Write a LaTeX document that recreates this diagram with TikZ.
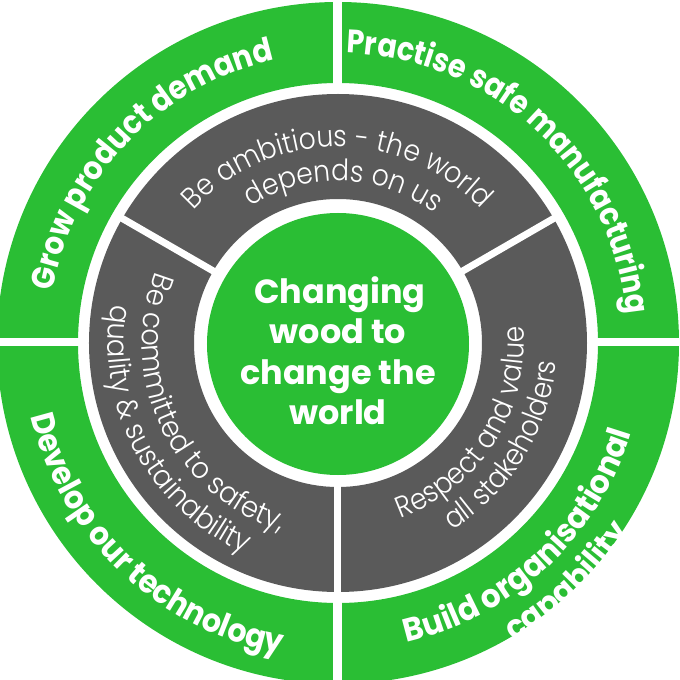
\documentclass[tikz,border=0pt]{standalone}
\usepackage{fontspec}
\usetikzlibrary{decorations.text}
\newfontfamily\popAa{Poppins}[FakeStretch=0.875]
\newfontfamily\popAb{Poppins}[FakeStretch=0.9]
\newfontfamily\popAc{Poppins}[FakeStretch=0.92]
\newfontfamily\popAd{Poppins}[FakeStretch=0.95]
\IfFontExistsTF{Poppins Light}
  {\newfontfamily\popBa{Poppins Light}[FakeStretch=0.9]
   \newfontfamily\popBb{Poppins Light}[FakeStretch=0.93]}
  {\newfontfamily\popBa{Poppins}[FakeStretch=0.9]
   \newfontfamily\popBb{Poppins}[FakeStretch=0.93]}
\newfontfamily\popC{Poppins}
\definecolor{leafgreen}{RGB}{42,190,52}
\definecolor{slate}{RGB}{90,90,90}
\newcommand\outersize{\bfseries\fontsize{32.5}{37}\selectfont}
\newcommand\ringsize{\fontsize{29.5}{32}\selectfont}
\newcommand\corefont{\popC\bfseries\fontsize{33.5}{40}\selectfont}
\tikzset{
  arctext/.style={decorate, decoration={text along path, text align=center, text color=white}},
  coretext/.style={anchor=base, text=white, font=\corefont, inner sep=0pt},
  gapline/.style={white, line width=7pt},
}
\begin{document}
\begin{tikzpicture}[x=1pt, y=1pt]
\useasboundingbox (-338,-337) rectangle (342,343);
% outer green ring
\fill[leafgreen, even odd rule] (0,0) circle[radius=341] (0,0) circle[radius=260];
% white cross
\fill[white] (-5,-350) rectangle (4,350);
\fill[white] (-350,-3) rectangle (350,5);
% gray ring
\fill[slate, even odd rule] (0,0) circle[radius=249] (0,0) circle[radius=144];
\draw[gapline] (30:138) -- (30:255);
\draw[gapline] (150:138) -- (150:255);
\draw[gapline] (270:138) -- (270:255);
% center
\node[circle, fill=leafgreen, minimum size=262pt, inner sep=0pt] (core) at (0,-1) {};
\node[coretext] (line1) at (2,39) {Changing};
\node[coretext] (line2) at (0,-1) {wood to};
\node[coretext] (line3) at (0,-41) {change the};
\node[coretext] (line4) at (0,-81) {world};
% outer texts
\path[arctext, decoration={text={|\popAb\outersize|Grow product demand}}]
  (196.2:290) arc[start angle=196.2, end angle=76.2, radius=290];
\path[arctext, decoration={text={|\popAa\outersize|Practise safe manufacturing}}]
  (107:290) arc[start angle=107, end angle=-13, radius=290];
\path[arctext, decoration={text={|\popAc\outersize|Develop our technology}}]
  (166.5:316) arc[start angle=166.5, end angle=286.5, radius=316];
\path[arctext, decoration={text={|\popAd\outersize|Build organisational}}]
  (253:307) arc[start angle=253, end angle=373, radius=307];
\begin{scope}
\clip (0,0) circle[radius=341];
\path[arctext, decoration={text={|\popAd\outersize|capability}}]
  (253.8:346) arc[start angle=253.8, end angle=373.8, radius=346];
\end{scope}
% ring texts
\path[arctext, decoration={text={|\popBa\ringsize|Be ambitious - the world}}]
  (150.3:196) arc[start angle=150.3, end angle=30.3, radius=196];
\path[arctext, decoration={text={|\popBa\ringsize|depends on us}}]
  (148:162) arc[start angle=148, end angle=28, radius=162];
\path[arctext, decoration={text={|\popBb\ringsize|Be committed to safety,}}]
  (146:196) arc[start angle=146, end angle=266, radius=196];
\path[arctext, decoration={text={|\popBb\ringsize|quality {\&} sustainability}}]
  (148.2:230) arc[start angle=148.2, end angle=268.2, radius=230];
\path[arctext, decoration={text={|\popBa\ringsize|Respect and value}}]
  (267.4:186) arc[start angle=267.4, end angle=387.4, radius=186];
\path[arctext, decoration={text={|\popBa\ringsize|all stakeholders}}]
  (268.2:219) arc[start angle=268.2, end angle=388.2, radius=219];
\end{tikzpicture}
\end{document}
